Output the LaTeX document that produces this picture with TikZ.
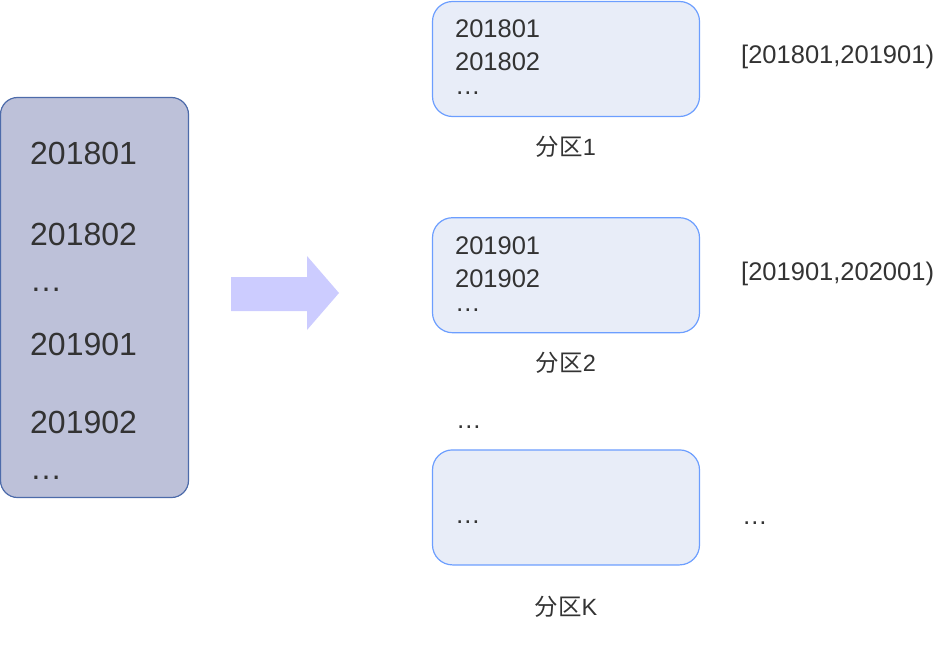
\documentclass[tikz,border=0pt]{standalone}
\usepackage{fontspec}
\setmainfont{Liberation Sans}
\newfontfamily\cjk{Noto Sans CJK SC}
\usetikzlibrary{positioning}
\definecolor{srcfill}{HTML}{BDC1D9}
\definecolor{srcline}{HTML}{4D6BAA}
\definecolor{partfill}{HTML}{E8EDF8}
\definecolor{partline}{HTML}{6C9EFF}
\definecolor{shiftfill}{HTML}{CCCCFF}
\definecolor{txt}{HTML}{333333}
\tikzset{srcbox/.style={rectangle,draw=srcline,fill=srcfill,
line width=1.2pt,rounded corners=17pt,minimum width=188pt,minimum height=400pt}}
\tikzset{partbox/.style={rectangle,draw=partline,fill=partfill,
line width=1.2pt,rounded corners=20pt,minimum width=267pt,minimum height=115pt}}
\tikzset{srcitem/.style={anchor=base west,inner sep=0pt,text=txt,
font=\fontsize{32}{36}\selectfont}}
\tikzset{partitem/.style={anchor=base west,inner sep=0pt,text=txt,
font=\fontsize{25.5}{30}\selectfont}}
\tikzset{moredots/.style={text height=5pt,text depth=0pt}}
\tikzset{partname/.style={anchor=base,inner sep=0pt,text=txt,
font=\fontsize{23.5}{28}\selectfont}}

\begin{document}
\begin{tikzpicture}[x=1pt,y=-1pt]
        \useasboundingbox (0,0) rectangle (945,664);

        \node[srcbox] (src) at (94.5,297.5) {};
        \node[srcitem] (srcA) at (30,164) {201801};
        \node[srcitem] (srcB) at (30,245) {201802};
        \node[srcitem,moredots] (srcC) at (30,291) {…};
        \node[srcitem] (srcD) at (30,355) {201901};
        \node[srcitem] (srcE) at (30,433) {201902};
        \node[srcitem,moredots] (srcF) at (30,479) {…};

        \fill[shiftfill] (231,277) -- (307,277) -- (307,256) -- (339,293)
            -- (307,330) -- (307,311) -- (231,311) -- cycle;

        \node[partbox] (partA) at (566,59) {};
        \node[partbox] (partB) [below=100pt of partA] {};
        \node[partbox] (partK) [below=116pt of partB] {};

        \node[partitem] (partAone) at ([xshift=23pt,yshift=-37pt]partA.north west) {201801};
        \node[partitem] (partAtwo) at ([xshift=23pt,yshift=-70pt]partA.north west) {201802};
        \node[partitem,moredots] (partAmore) at ([xshift=23pt,yshift=-94pt]partA.north west) {…};

        \node[partitem] (partBone) at ([xshift=23pt,yshift=-37pt]partB.north west) {201901};
        \node[partitem] (partBtwo) at ([xshift=23pt,yshift=-70pt]partB.north west) {201902};
        \node[partitem,moredots] (partBmore) at ([xshift=23pt,yshift=-94pt]partB.north west) {…};

        \node[partitem,moredots] (partKmore) at ([xshift=23pt,yshift=-74pt]partK.north west) {…};

        \node[partname] (partAname) at ([yshift=-38pt]partA.south) {{\cjk 分区}1};
        \node[partname] (partBname) at ([yshift=-38pt]partB.south) {{\cjk 分区}2};
        \node[partname] (partKname) at ([yshift=-50pt]partK.south) {{\cjk 分区}K};

        \node[partitem,moredots] (gapmore) at (456,428) {…};

        \node[partitem] (rangeA) at (741,63) {[201801,201901)};
        \node[partitem] (rangeB) at (741,280) {[201901,202001)};
        \node[partitem,moredots] (rangeK) at (742,524) {…};

    \end{tikzpicture}
\end{document}
